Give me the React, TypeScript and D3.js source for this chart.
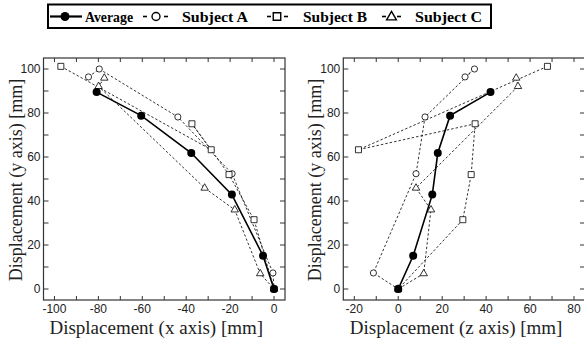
import React from "react";
import * as d3 from "d3";

// vertical displacement (shared by both panels), in point order
const yAvg = [89.5, 78.8, 61.8, 42.9, 15.1, 0];
const yA = [96.4, 100, 78.2, 52.4, 7.3, 0];
const yB = [101.2, 63.3, 75.1, 52, 31.5, 0];
const yC = [95.9, 92.1, 45.9, 36, 7, 0];

// x axis displacement
const xAvg = [-80.8, -60.5, -37.7, -19.2, -5.0, 0];
const xA = [-84.5, -79.6, -43.8, -19.1, -0.5, 0];
const xB = [-97.1, -28.6, -37.4, -20.5, -9.1, 0];
const xC = [-77.3, -79.9, -31.6, -17.9, -6.3, 0];

// z axis displacement
const zAvg = [42.0, 23.6, 18.0, 15.5, 6.8, 0];
const zA = [30.4, 34.7, 12.2, 8.1, -11.3, 0];
const zB = [67.9, -18.1, 35.0, 33.2, 29.4, 0];
const zC = [53.7, 54.5, 8.1, 14.9, 11.6, 0];

const legendLabels = ["Average", "Subject A", "Subject B", "Subject C"];
const xTicksLeft = d3.range(-100, 1, 10);
const xTicksRight = d3.range(-20, 81, 10);
const yTicks = d3.range(0, 101, 10);

const serif = "Liberation Serif";
const sans = "Liberation Sans";

const W = 584, H = 344;
const top = 58, bottom = 300;

const circleSym = d3.symbol().type(d3.symbolCircle).size(30)();
const squareSym = d3.symbol().type(d3.symbolSquare).size(36)();
const triSym = d3.symbol().type(d3.symbolTriangle).size(24)();

const Panel = ({ left, right, xDomain, xTicks, xs, title }) => {
  const x = d3.scaleLinear().domain(xDomain).range([left, right]);
  const y = d3.scaleLinear().domain([-5, 105]).range([bottom, top]);
  const line = (xv, yv) =>
    d3.line()(xv.map((v, i) => [x(v), y(yv[i])]));
  const subjects = [
    { xv: xs[1], yv: yA, sym: circleSym },
    { xv: xs[2], yv: yB, sym: squareSym },
    { xv: xs[3], yv: yC, sym: triSym },
  ];
  const t = 4;
  return (
    <g>
      {subjects.map((s, k) => (
        <path key={"l" + k} d={line(s.xv, s.yv)} fill="none" stroke="#000"
          strokeWidth={0.8} strokeDasharray="2.5,2" />
      ))}
      {subjects.map((s, k) =>
        s.xv.map((v, i) => (
          <path key={"m" + k + "-" + i} d={s.sym}
            transform={`translate(${x(v)},${y(s.yv[i])})`}
            fill="#fff" stroke="#000" strokeWidth={0.8} />
        ))
      )}
      <path d={line(xs[0], yAvg)} fill="none" stroke="#000" strokeWidth={1.6} />
      {xs[0].map((v, i) => (
        <circle key={"a" + i} cx={x(v)} cy={y(yAvg[i])} r={4} fill="#000" />
      ))}
      <rect x={left} y={top} width={right - left} height={bottom - top}
        fill="none" stroke="#333" strokeWidth={1.2} />
      {xTicks.map(v => (
        <g key={"xt" + v}>
          <line x1={x(v)} x2={x(v)} y1={bottom} y2={bottom - t} stroke="#333" />
          <line x1={x(v)} x2={x(v)} y1={top} y2={top + t} stroke="#333" />
          {v % 20 === 0 && (
            <text x={x(v)} y={313} textAnchor="middle" fontFamily={sans}
              fontSize={12} fill="#222">{v}</text>
          )}
        </g>
      ))}
      {yTicks.map(v => (
        <g key={"yt" + v}>
          <line x1={left} x2={left + t + 1} y1={y(v)} y2={y(v)} stroke="#333" />
          <line x1={right} x2={right - t - 1} y1={y(v)} y2={y(v)} stroke="#333" />
          {v % 20 === 0 && (
            <text x={left - 3} y={y(v) + 4.2} textAnchor="end" fontFamily={sans}
              fontSize={12} fill="#222">{v}</text>
          )}
        </g>
      ))}
      <text x={(left + right) / 2 - 8} y={334} textAnchor="middle" fontFamily={serif}
        fontSize={19} fill="#222">{title}</text>
      <text transform={`translate(${left - 22},${(top + bottom) / 2 + 1}) rotate(-90)`}
        textAnchor="middle" fontFamily={serif} fontSize={18}
        fill="#222">Displacement (y axis) [mm]</text>
    </g>
  );
};

const Legend = () => {
  const cy = 16.5;
  const items = [
    { x0: 50, x1: 82, cx: 65, tx: 85, tw: 48, kind: "avg" },
    { x0: 143, x1: 168, cx: 156, tx: 182, tw: 66, kind: "circle" },
    { x0: 267, x1: 288, cx: 277, tx: 303, tw: 64, kind: "square" },
    { x0: 382, x1: 401, cx: 391.5, tx: 415, tw: 67, kind: "tri" },
  ];
  return (
    <g>
      <rect x={48} y={4.5} width={443} height={23.5} fill="#fff" stroke="#000" strokeWidth={2} />
      {items.map((it, i) => (
        <g key={i}>
          {it.kind === "avg" ? (
            <>
              <line x1={it.x0} x2={it.x1} y1={cy} y2={cy} stroke="#000" strokeWidth={2.2} />
              <circle cx={it.cx} cy={cy} r={4.5} fill="#000" />
            </>
          ) : (
            <>
              <line x1={it.x0} x2={it.x0 + 4} y1={cy} y2={cy} stroke="#000" strokeWidth={1.6} />
              <line x1={it.x1 - 4} x2={it.x1} y1={cy} y2={cy} stroke="#000" strokeWidth={1.6} />
              <path
                d={it.kind === "circle"
                  ? d3.symbol().type(d3.symbolCircle).size(50)()
                  : it.kind === "square"
                    ? d3.symbol().type(d3.symbolSquare).size(56)()
                    : d3.symbol().type(d3.symbolTriangle).size(42)()}
                transform={`translate(${it.cx},${cy + (it.kind === "tri" ? 0.5 : 0)})`}
                fill="#fff" stroke="#000" strokeWidth={1.4} />
            </>
          )}
          <text x={it.tx} y={22} fontFamily={serif} fontWeight="bold" fontSize={14.5}
            textLength={it.tw} lengthAdjust="spacingAndGlyphs" fill="#000">
            {legendLabels[i]}
          </text>
        </g>
      ))}
    </g>
  );
};

export default function App() {
  return (
    <svg width={W} height={H} style={{ position: "absolute", left: 0, top: 0, background: "#fff" }}>
      <Legend />
      <Panel left={43.5} right={285} xDomain={[-105, 5]} xTicks={xTicksLeft}
        xs={[xAvg, xA, xB, xC]} title="Displacement (x axis) [mm]" />
      <Panel left={343.3} right={585} xDomain={[-25, 85]} xTicks={xTicksRight}
        xs={[zAvg, zA, zB, zC]} title="Displacement (z axis) [mm]" />
    </svg>
  );
}
